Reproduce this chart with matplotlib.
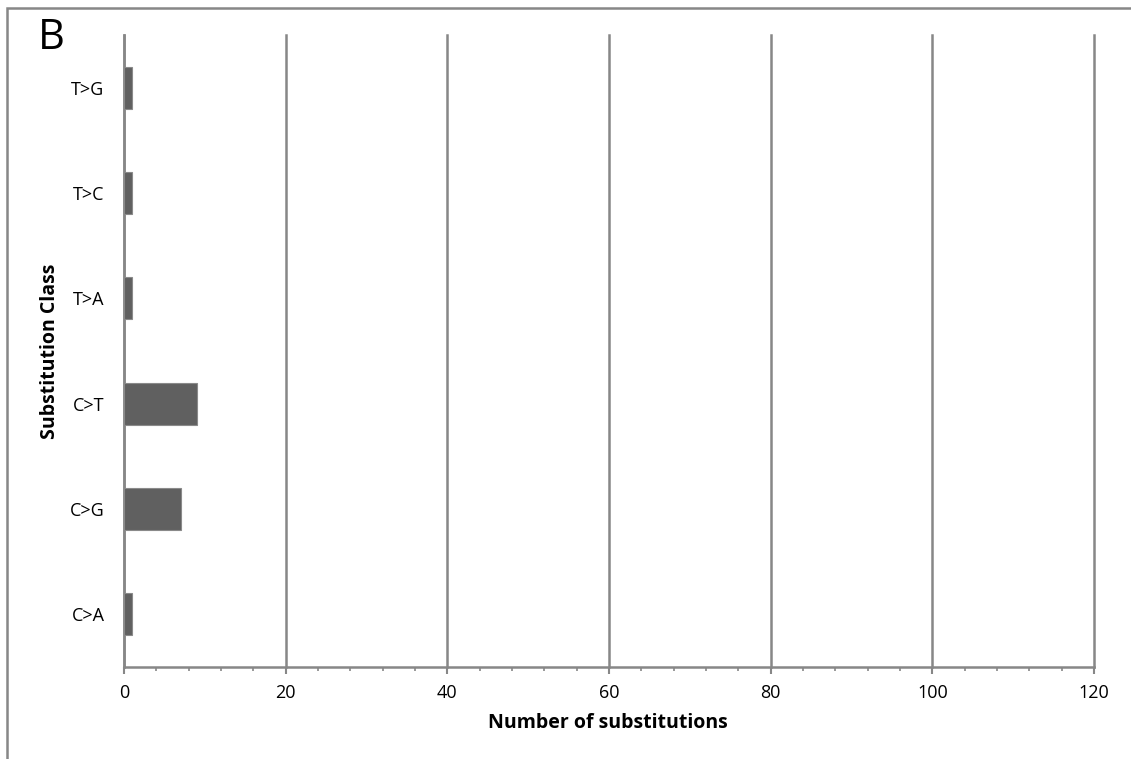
import matplotlib
matplotlib.use("Agg")
import matplotlib.pyplot as plt
from matplotlib.patches import Rectangle
from matplotlib.ticker import MultipleLocator

# substitution counts per class
classes = ["C>A", "C>G", "C>T", "T>A", "T>C", "T>G"]
counts = [1, 7, 9, 1, 1, 1]
xticks = [0, 20, 40, 60, 80, 100, 120]

plt.rcParams['font.family'] = ['Open Sans', 'DejaVu Sans']

W, H = 1131, 759
fig = plt.figure(figsize=(W / 100, H / 100), dpi=100)
ax = fig.add_axes([124 / W, 1 - 667 / H, (1094 - 124) / W, (667 - 35) / H])

grey = "#878787"

# panel frame, running off the right and bottom edges
fig.patches.append(Rectangle((7 / W, -0.1), 1.2, 1 - 8 / H + 0.1, transform=fig.transFigure,
                             fill=False, edgecolor=grey, linewidth=1.8, clip_on=False))

ypos = list(range(len(classes)))
ax.barh(ypos, counts, height=0.4, color="#606060", edgecolor="#8a8a8a", linewidth=0.8, zorder=3)

ax.set_xlim(0, 120)
ax.set_ylim(-0.5, len(classes) - 0.5)
ax.set_xticks(xticks)
ax.xaxis.set_minor_locator(MultipleLocator(4))
ax.set_yticks(ypos)
ax.set_yticklabels(classes)

ax.grid(axis="x", which="major", color=grey, linewidth=1.8, zorder=0)
for gl in ax.get_xgridlines():
    gl.set_clip_on(False)
for s in ["top", "right"]:
    ax.spines[s].set_visible(False)
for s in ["left", "bottom"]:
    ax.spines[s].set_color(grey)
    ax.spines[s].set_linewidth(1.8)

ax.tick_params(axis="x", which="major", direction="out", length=5, width=1.5, color=grey,
               labelsize=13, pad=7, labelcolor="black")
ax.tick_params(axis="x", which="minor", direction="out", length=3, width=1.2, color=grey)
ax.tick_params(axis="y", length=0, labelsize=13, pad=14, labelcolor="black")

ax.set_xlabel("Number of substitutions", fontsize=14, fontweight="bold")
ax.xaxis.set_label_coords((608 - 124) / (1094 - 124), -(713 - 667) / (667 - 35))
ax.set_ylabel("Substitution Class", fontsize=14, fontweight="bold")
ax.yaxis.set_label_coords(-(124 - 60) / (1094 - 124), 0.5)

fig.text(38 / W, 1 - 38 / H, "B", fontsize=30, ha="left", va="center")

fig.savefig("out.png", dpi=100)
